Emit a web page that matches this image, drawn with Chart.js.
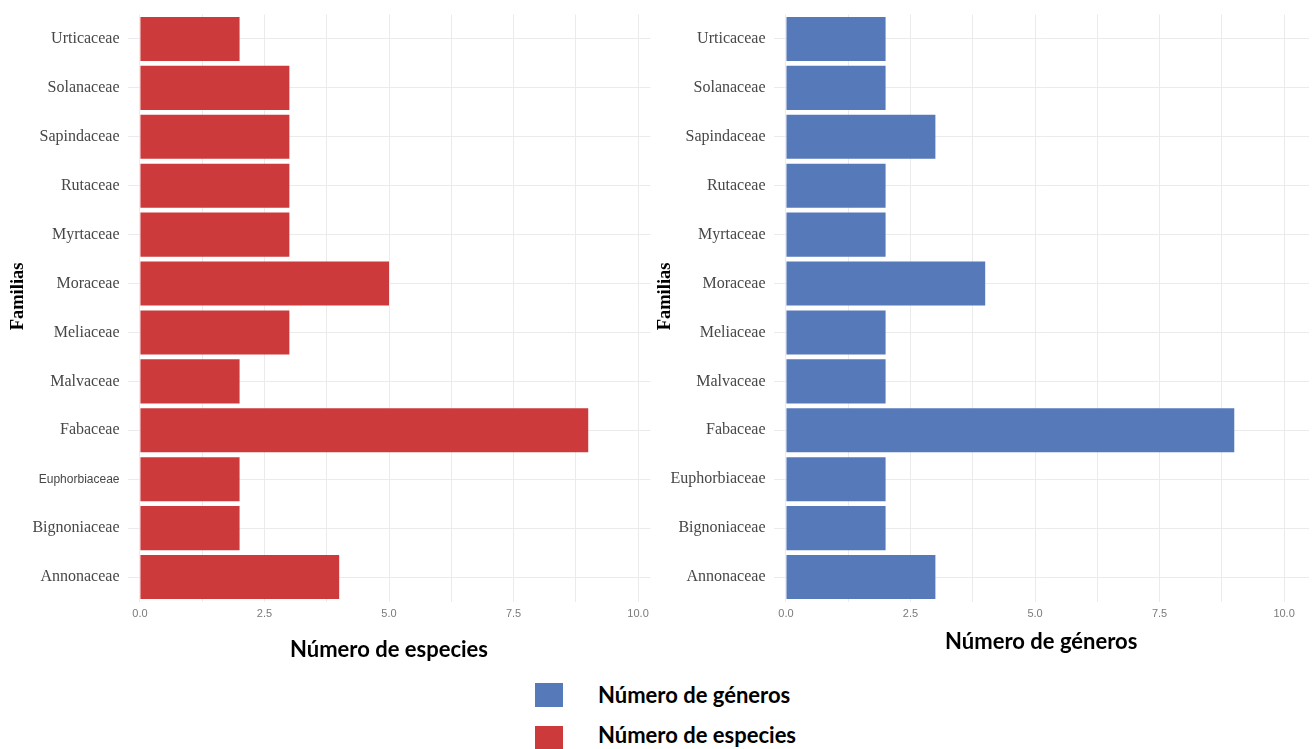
<!DOCTYPE html>
<html>
<head>
<meta charset="utf-8">
<script src="https://cdn.jsdelivr.net/npm/chart.js@4"></script>
<style>
  html, body { margin: 0; padding: 0; background: #fff; }
  body { width: 1314px; height: 749px; position: relative; overflow: hidden; }
  .box { position: absolute; top: 0; width: 660px; height: 670px; }
  #boxEsp { left: 0; }
  #boxGen { left: 654px; }
  .key { position: absolute; left: 535px; width: 28px; }
  .lbl { position: absolute; left: 598px; font: bold 22px Lato, "Open Sans", sans-serif; color: #000; line-height: 26px; }
</style>
</head>
<body>
<div class="box" id="boxEsp"><canvas id="chartEsp"></canvas></div>
<div class="box" id="boxGen"><canvas id="chartGen"></canvas></div>

<div class="key" style="top:683px;height:24px;background:#5679BA"></div>
<div class="lbl" style="top:682px">Número de géneros</div>
<div class="key" style="top:726px;height:23px;background:#CC3A3C"></div>
<div class="lbl" style="top:722px">Número de especies</div>

<script>
// familias, de arriba hacia abajo como en la figura
const familias = ['Urticaceae', 'Solanaceae', 'Sapindaceae', 'Rutaceae', 'Myrtaceae', 'Moraceae',
                  'Meliaceae', 'Malvaceae', 'Fabaceae', 'Euphorbiaceae', 'Bignoniaceae', 'Annonaceae'];
const especies = [2, 3, 3, 3, 3, 5, 3, 2, 9, 2, 2, 4];
const generos = [2, 2, 3, 2, 2, 4, 2, 2, 9, 2, 2, 3];
const ticksX = [0, 2.5, 5, 7.5, 10];

const rojo = '#CC3A3C';
const azul = '#5679BA';
const gris = '#ebebeb';

function crearGrafico(id, valores, color, tituloX, cfg) {
    const ctx = document.getElementById(id).getContext('2d');
    return new Chart(ctx, {
        type: 'bar',
        data: {
            labels: familias,
            datasets: [{
                label: tituloX,
                data: valores,
                backgroundColor: color,
                borderWidth: 0,
                barPercentage: 0.9,
                categoryPercentage: 1
            }]
        },
        options: {
            indexAxis: 'y',
            responsive: true,
            maintainAspectRatio: false,
            animation: false,
            layout: { padding: { left: 0, top: 14.5, right: cfg.padRight, bottom: 0 } },
            plugins: { legend: { display: false }, tooltip: { enabled: false } },
            scales: {
                x: {
                    type: 'linear',
                    min: -0.25,
                    max: cfg.maxX,
                    afterFit: s => { s.height = 68.5; },
                    border: { display: false },
                    grid: { color: gris, lineWidth: 1, drawTicks: false },
                    ticks: {
                        stepSize: 1.25,
                        includeBounds: false,
                        autoSkip: false,
                        maxRotation: 0,
                        padding: 6,
                        color: '#7a7a7a',
                        font: { family: '"Liberation Sans", Arial, sans-serif', size: 11 },
                        callback: v => ticksX.includes(v) ? v.toFixed(1) : ''
                    },
                    title: {
                        display: true,
                        text: tituloX,
                        color: '#000',
                        font: { family: 'Lato, "Open Sans", sans-serif', size: 22, weight: 'bold' },
                        padding: { top: 0, bottom: cfg.titlePadBottom }
                    }
                },
                y: {
                    type: 'category',
                    offset: true,
                    afterFit: s => {
                        s.width = cfg.axisWidth;
                        s.paddingTop = 0;
                        s.paddingBottom = 0;
                    },
                    border: { display: false },
                    grid: { color: gris, lineWidth: 1, drawTicks: false, offset: false },
                    ticks: {
                        padding: 8,
                        color: '#474747',
                        autoSkip: false,
                        font: c => (cfg.sansIndex === c.index)
                            ? { family: '"Liberation Sans", Arial, sans-serif', size: 12 }
                            : { family: '"Liberation Serif", "Times New Roman", serif', size: 16 }
                    },
                    title: {
                        display: true,
                        // espacios iniciales: sube el texto girado como en la figura
                        text: '     Familias',
                        color: '#000',
                        font: { family: '"Liberation Serif", "Times New Roman", serif', size: 18.5, weight: 'bold' },
                        padding: { top: cfg.yTitlePad, bottom: 0 }
                    }
                }
            }
        }
    });
}

document.addEventListener('DOMContentLoaded', () => {
    crearGrafico('chartEsp', especies, rojo, 'Número de especies',
        { padRight: 9.5, maxX: 10.25, axisWidth: 127.5, titlePadBottom: 7, yTitlePad: 7, sansIndex: 9 });
    crearGrafico('chartGen', generos, azul, 'Número de géneros',
        { padRight: 5, maxX: 10.5, axisWidth: 119.5, titlePadBottom: 15, yTitlePad: 0, sansIndex: -1 });
});
</script>
</body>
</html>
